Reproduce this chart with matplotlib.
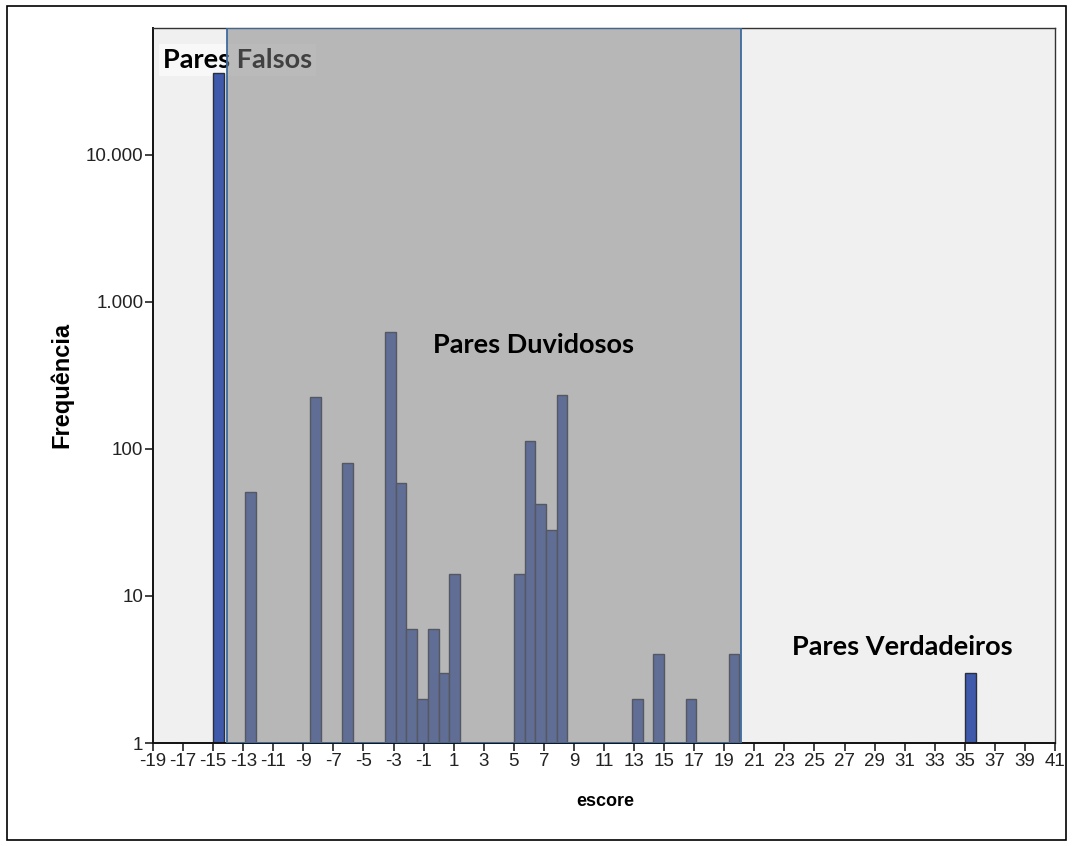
import matplotlib
matplotlib.use('Agg')
import matplotlib.pyplot as plt
from matplotlib.patches import Rectangle
from matplotlib.ticker import FixedLocator, FixedFormatter, NullLocator

plt.rcParams['font.family'] = ['Liberation Sans', 'DejaVu Sans']

# histogram of the score: 70 bins of equal width starting at -15
bin_start = -15
bin_width = 50 / 70
bin_index = [0, 3, 9, 12, 16, 17, 18, 19, 20, 21, 22, 28, 29, 30, 31, 32,
             39, 41, 44, 48, 62, 64, 70, 72]
frequency = [36000, 51, 226, 80, 624, 59, 6, 2, 6, 3, 14, 14, 114, 42, 28, 233,
             2, 4, 2, 4, 1, 1, 3, 1]

x_ticks = list(range(-19, 42, 2))
y_ticks = [1, 10, 100, 1000, 10000]
y_labels = ['1', '10', '100', '1.000', '10.000']

# doubtful pairs band
doubtful_lo, doubtful_hi = -14.08, 20.11

W, H = 1072, 846
fig = plt.figure(figsize=(W / 100, H / 100), dpi=100)
ax = fig.add_axes([153 / W, 1 - 743 / H, (1055 - 153) / W, (743 - 28) / H])
ax.set_facecolor('#f0f0f0')

lefts = [bin_start + i * bin_width for i in bin_index]
ax.bar(lefts, [f - 1 for f in frequency], width=bin_width, bottom=1, align='edge',
       color='#3f5aab', edgecolor='#2a2f40', linewidth=1.0, zorder=2)

ax.set_yscale('log')
ax.set_xlim(-19, 41)
ax.set_ylim(1, 73000)

ax.xaxis.set_major_locator(FixedLocator(x_ticks))
ax.xaxis.set_major_formatter(FixedFormatter([str(t) for t in x_ticks]))
ax.yaxis.set_major_locator(FixedLocator(y_ticks))
ax.yaxis.set_major_formatter(FixedFormatter(y_labels))
ax.yaxis.set_minor_locator(NullLocator())
ax.tick_params(axis='both', direction='out', length=6, width=1.2, color='#222222',
               labelsize=13.5, labelcolor='#222222', pad=1)

for s in ax.spines.values():
    s.set_color('#333333')
    s.set_linewidth(1.0)
ax.spines['left'].set_linewidth(1.4)
ax.spines['bottom'].set_linewidth(1.4)
ax.spines['left'].set_color('#111111')
ax.spines['bottom'].set_color('#111111')

lbl = dict(family=['Lato', 'DejaVu Sans'], fontweight='bold', fontsize=19.5,
           transform=ax.transAxes, va='center', ha='left')

# label under the band (gets greyed where the band covers it)
ax.text(0.011, 0.955, 'Pares Falsos', color='black', zorder=1.5,
        bbox=dict(facecolor='#f8f8f8', edgecolor='none', pad=3), **lbl)

# semi-transparent grey band over the bars
ax.axvspan(doubtful_lo, doubtful_hi, facecolor='#808080', alpha=0.51,
           edgecolor='none', zorder=3)
ax.add_patch(Rectangle((doubtful_lo, 0), doubtful_hi - doubtful_lo, 1,
                       transform=ax.get_xaxis_transform(), fill=False,
                       edgecolor='#3e6a9e', linewidth=1.3, zorder=4))

ax.text(0.310, 0.557, 'Pares Duvidosos', color='black', zorder=5, **lbl)
ax.text(0.708, 0.134, 'Pares Verdadeiros', color='black', zorder=5, **lbl)

fig.text(605 / W, 1 - 801 / H, 'escore', fontweight='bold', fontsize=13,
         ha='center', va='center')
fig.text(62 / W, 1 - 385 / H, 'Frequência', fontweight='bold', fontsize=17,
         ha='center', va='center', rotation=90)

# outer frame around the whole chart
fig.patches.append(Rectangle((7 / W, 1 - 840 / H), (1066 - 7) / W, (840 - 6) / H,
                             transform=fig.transFigure, fill=False,
                             edgecolor='black', linewidth=1.2))

fig.savefig('out.png', dpi=100)
